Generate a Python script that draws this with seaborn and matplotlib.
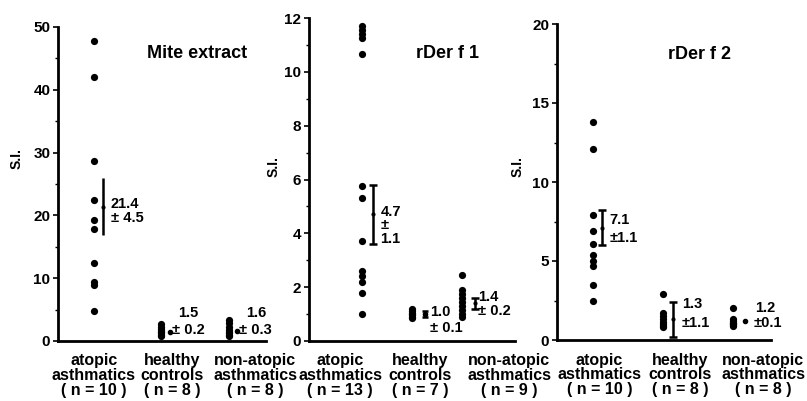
import numpy as np
import pandas as pd
import matplotlib
matplotlib.use("Agg")
import matplotlib.pyplot as plt
from matplotlib.ticker import MultipleLocator
import seaborn as sns

sns.set_theme(style="white")
plt.rcParams['font.family'] = ['Liberation Sans', 'DejaVu Sans']
plt.rcParams['font.weight'] = 'bold'
for key in ['text.color', 'axes.labelcolor', 'xtick.color', 'ytick.color', 'axes.edgecolor']:
    plt.rcParams[key] = 'black'

# ---------------- data ----------------
groups = ["atopic\nasthmatics", "healthy\ncontrols", "non-atopic\nasthmatics"]
titles = ["Mite extract", "rDer f 1", "rDer f 2"]

mite_atopic = [47.8, 42.0, 28.7, 22.5, 19.3, 17.8, 12.4, 9.4, 8.9, 4.8]
mite_healthy = [2.7, 2.3, 1.9, 1.6, 1.4, 1.2, 1.0, 0.8]
mite_nonatopic = [3.3, 2.8, 2.2, 1.8, 1.5, 1.3, 1.0, 0.8]
mite_mean = [21.4, 1.5, 1.6]
mite_sem = [4.5, 0.2, 0.3]
mite_n = [10, 8, 8]

der1_atopic = [11.7, 11.55, 11.4, 11.25, 10.65, 5.75, 5.3, 3.7, 2.6, 2.4, 2.2, 1.8, 1.0]
der1_healthy = [1.2, 1.1, 1.05, 1.0, 0.95, 0.9, 0.85]
der1_nonatopic = [2.45, 1.9, 1.75, 1.6, 1.45, 1.3, 1.15, 1.0, 0.9]
der1_mean = [4.7, 1.0, 1.4]
der1_sem = [1.1, 0.1, 0.2]
der1_n = [13, 7, 9]

der2_atopic = [13.8, 12.1, 7.9, 6.9, 6.1, 5.4, 5.0, 4.7, 3.5, 2.5]
der2_healthy = [2.9, 1.7, 1.5, 1.3, 1.15, 1.0, 0.9, 0.8]
der2_nonatopic = [2.0, 1.3, 1.2, 1.1, 1.05, 1.0, 0.95, 0.9]
der2_mean = [7.1, 1.3, 1.2]
der2_sem = [1.1, 1.1, 0.1]
der2_n = [10, 8, 8]

y_max = [50, 12, 20]
y_major = [10, 2, 5]
y_minor = [5, 1, 2.5]

panels = [
    dict(vals=[mite_atopic, mite_healthy, mite_nonatopic], mean=mite_mean, sem=mite_sem, n=mite_n),
    dict(vals=[der1_atopic, der1_healthy, der1_nonatopic], mean=der1_mean, sem=der1_sem, n=der1_n),
    dict(vals=[der2_atopic, der2_healthy, der2_nonatopic], mean=der2_mean, sem=der2_sem, n=der2_n),
]

# ---------------- layout (pixels of the 807x401 figure) ----------------
W, H = 807, 401
layout = [
    dict(px=(58, 266, 27, 341), xlim=(-0.533, 2.548), ticks=[0.0, 1.16, 2.39],
         title_xy=(0.668, 0.917), ylab_xy=(-0.165, 0.58),
         eb_off=[0.135, 0.12, 0.12], caps=[0, 0, 0], eb_ms=[2.0, 3.0, 3.0]),
    dict(px=(309, 515, 18, 341), xlim=(-1.08, 3.08), ticks=[-0.45, 1.16, 2.96],
         title_xy=(0.67, 0.889), ylab_xy=(-0.14, 0.54),
         eb_off=[0.22, 0.27, 0.28], caps=[3, 2, 3], eb_ms=[2.0, 3.0, 2.0]),
    dict(px=(557, 771, 24, 340), xlim=(-0.514, 2.54), ticks=[0.09, 1.24, 2.43],
         title_xy=(0.668, 0.905), ylab_xy=(-0.15, 0.55),
         eb_off=[0.13, 0.14, 0.17], caps=[3, 3, 0], eb_ms=[2.0, 2.0, 3.0]),
]

fig = plt.figure(figsize=(W / 100, H / 100), dpi=100)

for p, (panel, lay) in enumerate(zip(panels, layout)):
    x0, x1, ytop, ybot = lay["px"]
    ax = fig.add_axes([x0 / W, 1 - ybot / H, (x1 - x0) / W, (ybot - ytop) / H])

    df = pd.DataFrame({
        "group": np.concatenate([[g] * len(v) for g, v in zip(groups, panel["vals"])]),
        "value": np.concatenate(panel["vals"]),
    })
    sns.stripplot(data=df, x="group", y="value", order=groups, jitter=False,
                  color="black", size=5.2, linewidth=0, ax=ax)

    # mean +/- SEM bars
    for i in range(3):
        ax.errorbar(i + lay["eb_off"][i], panel["mean"][i], yerr=panel["sem"][i],
                    fmt="o", color="black", ms=lay["eb_ms"][i], elinewidth=1.8,
                    capsize=lay["caps"][i], capthick=1.8)

    ax.set_xlim(*lay["xlim"])
    ax.set_ylim(0, y_max[p])
    ax.yaxis.set_major_locator(MultipleLocator(y_major[p]))
    ax.yaxis.set_minor_locator(MultipleLocator(y_minor[p]))
    ax.tick_params(axis="y", which="major", direction="out", length=3.5, width=1.2,
                   labelsize=11, pad=2, left=True, colors="black")
    ax.tick_params(axis="y", which="minor", direction="out", length=2, width=1,
                   left=True, colors="black")
    ax.set_xticks(lay["ticks"])
    ax.set_xticklabels([f"{g}\n( n = {n} )" for g, n in zip(groups, panel["n"])],
                       fontsize=11.5, fontweight="bold", linespacing=0.98, color="black")
    ax.tick_params(axis="x", length=0, pad=9, colors="black")
    for lbl in ax.get_yticklabels():
        lbl.set_fontweight("bold")
        lbl.set_color("black")

    for s in ["top", "right"]:
        ax.spines[s].set_visible(False)
    for s in ["left", "bottom"]:
        ax.spines[s].set_linewidth(2.0)
        ax.spines[s].set_color("black")

    ax.set_xlabel("")
    ax.set_ylabel("S.I.", fontsize=10, fontweight="bold", color="black")
    ax.yaxis.set_label_coords(*lay["ylab_xy"])
    ax.text(*lay["title_xy"], titles[p], transform=ax.transAxes, ha="center",
            va="center", fontsize=13, fontweight="bold", color="black")

    m, s = panel["mean"], panel["sem"]
    fs = 10.5
    kw = dict(va="center", fontsize=fs, color="black", fontweight="bold")
    if p == 0:
        ax.text(0.25, m[0] - 0.7, f"{m[0]:.1f}\n± {s[0]:.1f}", ha="left", linespacing=1.05, **kw)
        ax.text(1.40, 4.5, f"{m[1]:.1f}", ha="center", **kw)
        ax.text(1.15, 1.75, f"± {s[1]:.1f}", ha="left", **kw)
        ax.text(2.40, 4.5, f"{m[2]:.1f}", ha="center", **kw)
        ax.text(2.15, 1.75, f"± {s[2]:.1f}", ha="left", **kw)
    elif p == 1:
        ax.text(0.36, m[0] - 0.4, f"{m[0]:.1f}\n±\n{s[0]:.1f}", ha="left", linespacing=0.95, **kw)
        ax.text(1.36, 1.08, f"{m[1]:.1f}", ha="left", **kw)
        ax.text(1.36, 0.5, f"± {s[1]:.1f}", ha="left", **kw)
        ax.text(2.34, 1.65, f"{m[2]:.1f}", ha="left", **kw)
        ax.text(2.34, 1.12, f"± {s[2]:.1f}", ha="left", **kw)
    else:
        ax.text(0.24, 7.6, f"{m[0]:.1f}", ha="left", **kw)
        ax.text(0.24, 6.45, f"±{s[0]:.1f}", ha="left", **kw)
        ax.text(1.27, 2.3, f"{m[1]:.1f}", ha="left", **kw)
        ax.text(1.27, 1.1, f"±{s[1]:.1f}", ha="left", **kw)
        ax.text(2.31, 2.0, f"{m[2]:.1f}", ha="left", **kw)
        ax.text(2.29, 1.1, f"±{s[2]:.1f}", ha="left", **kw)

fig.savefig("out.png", dpi=100, facecolor="white")
